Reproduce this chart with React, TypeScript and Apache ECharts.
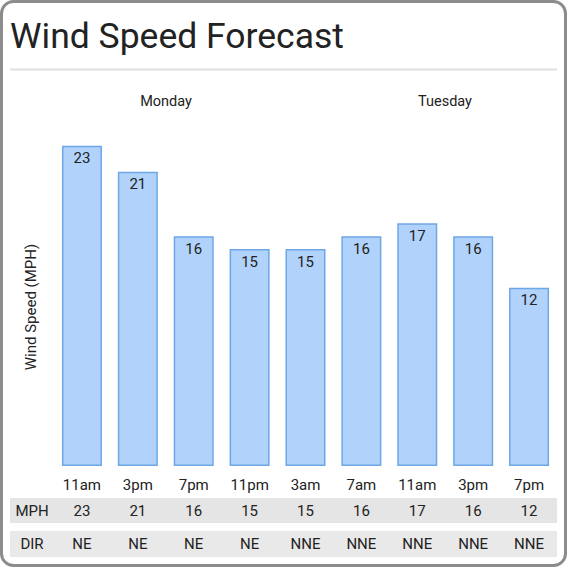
import React, { useEffect, useRef } from "react";
import * as echarts from "echarts";

const TIMES = ["11am", "3pm", "7pm", "11pm", "3am", "7am", "11am", "3pm", "7pm"];
const MPH = [23, 21, 16, 15, 15, 16, 17, 16, 12];
const DIR = ["NE", "NE", "NE", "NE", "NNE", "NNE", "NNE", "NNE", "NNE"];
const DAYS = ["Monday", "Tuesday"];
const BASE_OFFSET = 1.8;

const FONT = "Roboto";
const FS = 15;

export default function App() {
  const ref = useRef<HTMLDivElement>(null);
  useEffect(() => {
    document.body.style.margin = "0";
    const chart = echarts.init(ref.current!, null, { renderer: "svg" });
    const axisCommon = {
      type: "category" as const,
      gridIndex: 0,
      position: "bottom" as const,
      axisLine: { show: false },
      axisTick: { show: false },
      splitLine: { show: false },
    };
    const lab = { margin: 11, fontFamily: FONT, fontSize: FS, color: "#222" };
    chart.setOption({
      animation: false,
      backgroundColor: "#ffffff",
      grid: { left: 54, right: 10, top: 120, bottom: 101, containLabel: false },
      xAxis: [
        { ...axisCommon, data: TIMES, axisLabel: lab },
        { ...axisCommon, data: MPH.map(String), offset: 26, axisLabel: lab },
        { ...axisCommon, data: DIR, offset: 59, axisLabel: lab },
      ],
      yAxis: {
        type: "value",
        min: 0,
        max: 26.8,
        show: false,
        splitLine: { show: false },
      },
      series: [
        {
          type: "bar",
          barWidth: 40,
          data: MPH.map((v) => v + BASE_OFFSET),
          itemStyle: { color: "#b1d3fb", borderColor: "#6da7e6", borderWidth: 1.5 },
          label: {
            show: true,
            position: "insideTop",
            distance: 5,
            formatter: (p: any) => String(MPH[p.dataIndex]),
            fontFamily: FONT,
            fontSize: FS,
            color: "#222",
          },
        },
      ],
      graphic: [
        { type: "rect", z: -10, shape: { x: 10, y: 498, width: 547, height: 25 }, style: { fill: "#e5e5e5" } },
        { type: "rect", z: -10, shape: { x: 10, y: 531, width: 547, height: 26 }, style: { fill: "#e9e9e9" } },
        { type: "text", x: 32, y: 511, style: { text: "MPH", fontFamily: FONT, fontSize: FS, fill: "#222", align: "center", verticalAlign: "middle" } },
        { type: "text", x: 32, y: 544, style: { text: "DIR", fontFamily: FONT, fontSize: FS, fill: "#222", align: "center", verticalAlign: "middle" } },
        { type: "text", x: 10, y: 36, style: { text: "Wind Speed Forecast", fontFamily: FONT, fontSize: 35.5, fill: "#222", align: "left", verticalAlign: "middle" } },
        { type: "rect", shape: { x: 10, y: 68.5, width: 547, height: 2 }, style: { fill: "#e0e0e0" } },
        { type: "text", x: 166, y: 101, style: { text: DAYS[0], fontFamily: FONT, fontSize: 14.5, fill: "#222", align: "center", verticalAlign: "middle" } },
        { type: "text", x: 445, y: 101, style: { text: DAYS[1], fontFamily: FONT, fontSize: 14.5, fill: "#222", align: "center", verticalAlign: "middle" } },
        { type: "text", x: 31, y: 307, rotation: Math.PI / 2, style: { text: "Wind Speed (MPH)", fontFamily: FONT, fontSize: 15, fill: "#222", align: "center", verticalAlign: "middle" } },
        { type: "rect", z: 100, shape: { x: 1.5, y: 1.5, width: 564, height: 564, r: 12 }, style: { fill: "none", stroke: "#8c8c8c", lineWidth: 3 } },
      ],
    });
    return () => chart.dispose();
  }, []);
  return <div ref={ref} style={{ width: 567, height: 567, position: "absolute", left: 0, top: 0 }} />;
}
